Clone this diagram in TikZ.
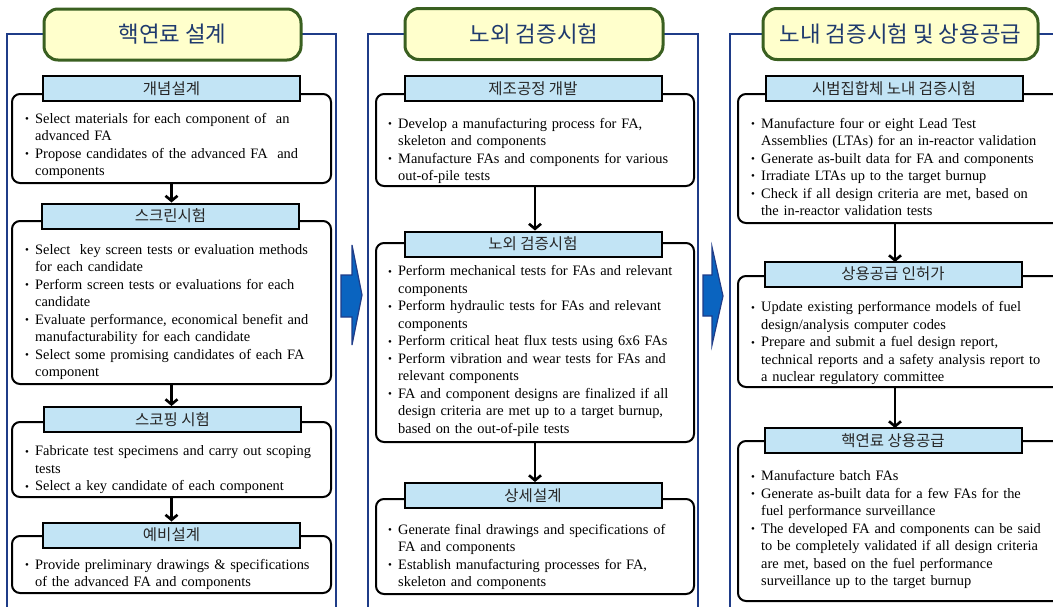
\documentclass[tikz,border=0pt]{standalone}
\usepackage{fontspec}
\setmainfont{Liberation Serif}
\newfontfamily\kr{Noto Sans CJK KR}
\usetikzlibrary{arrows.meta}
\definecolor{navy}{HTML}{1F3C88}
\definecolor{tnavy}{HTML}{1F3A6E}
\definecolor{tgreen}{HTML}{3A6020}
\definecolor{tyellow}{HTML}{FFFFCC}
\definecolor{lblue}{HTML}{C2E4F5}
\definecolor{barrow}{HTML}{0A64C0}
\newcommand\bi{\par\noindent\rule{0pt}{12pt}\hbox to 10pt{\raisebox{0.6pt}{\fontsize{11}{11}\selectfont\textbullet}\hfil}}
\newcommand\nl{\newline\hspace*{10pt}}
\tikzset{
  frame/.style={draw=navy, line width=2pt},
  ttl/.style={draw=tgreen, fill=tyellow, line width=3pt, rounded corners=14pt, inner sep=0pt, text=tnavy, minimum height=51pt, font=\kr\fontsize{22.4}{26}\selectfont},
  lbl/.style={draw=black, fill=lblue, line width=2pt, minimum height=25pt, minimum width=257pt, inner sep=0pt, text=black!85, font=\kr\fontsize{15.5}{18}\selectfont},
  cbox/.style={draw=black, line width=2pt, rounded corners=8pt, inner sep=0pt, fill=white, anchor=north west},
  btext/.style={anchor=north west, inner sep=0pt, align=left, text width=330pt, font=\fontsize{14.4}{17.5}\selectfont},
  flow/.style={line width=2.6pt, -{Straight Barb[length=5pt,width=12pt]}},
  bigarrow/.style={fill=barrow, draw=navy, line width=1.2pt, line join=miter}
}
\begin{document}
\begin{tikzpicture}[x=1pt,y=-1pt]
\useasboundingbox (0,0) rectangle (1053,606);
\clip (0,0) rectangle (1053,606);
% frames
\draw[frame] (7,620) -- (7,34) -- (336,34) -- (336,620);
\draw[frame] (368,620) -- (368,34) -- (698,34) -- (698,620);
\draw[frame] (730,620) -- (730,34) -- (1070,34);
% content boxes
\node[cbox, minimum width=319pt, minimum height=89pt] (c1) at (11,93) {};
\node[cbox, minimum width=319pt, minimum height=163pt] (c2) at (11,220) {};
\node[cbox, minimum width=319pt, minimum height=75pt] (c3) at (11,421) {};
\node[cbox, minimum width=319pt, minimum height=57pt] (c4) at (11,535) {};
\node[cbox, minimum width=318pt, minimum height=92pt] (m1) at (375,93) {};
\node[cbox, minimum width=318pt, minimum height=199pt] (m2) at (375,242) {};
\node[cbox, minimum width=318pt, minimum height=95pt] (m3) at (375,498) {};
\node[cbox, minimum width=330pt, minimum height=129pt] (r1) at (737,93) {};
\node[cbox, minimum width=330pt, minimum height=111pt] (r2) at (737,275) {};
\node[cbox, minimum width=330pt, minimum height=160pt] (r3) at (737,440) {};
% labels
\node[lbl] (l1) at (171.5,88.5) {개념설계};
\node[lbl] (l2) at (170.5,216) {스크린시험};
\node[lbl] (l3) at (172.5,419.5) {스코핑 시험};
\node[lbl] (l4) at (171.5,535) {예비설계};
\node[lbl] (lm1) at (533,88.5) {제조공정 개발};
\node[lbl] (lm2) at (533,244) {노외 검증시험};
\node[lbl] (lm3) at (533,495.5) {상세설계};
\node[lbl] (lr1) at (894,88.5) {시범집합체 노내 검증시험};
\node[lbl] (lr2) at (893,274) {상용공급 인허가};
\node[lbl] (lr3) at (893,440.5) {핵연료 상용공급};
% titles
\node[ttl, minimum width=257pt] (t1) at (172.5,34.5) {핵연료 설계};
\node[ttl, minimum width=258pt] (t2) at (534,34) {노외 검증시험};
\node[ttl, minimum width=275pt] (t3) at (900.5,34) {노내 검증시험 및 상용공급};
% flow arrows
\draw[flow] (c1.south) -- (c1.south |- l2.north);
\draw[flow] (c2.south) -- (c2.south |- l3.north);
\draw[flow] (c3.south) -- (c3.south |- l4.north);
\draw[flow] (m1.south) -- (m1.south |- lm2.north);
\draw[flow] (m2.south) -- (m2.south |- lm3.north);
\draw[flow] (895,222) -- (895,262);
\draw[flow] (895,386) -- (895,428);
% big blue arrows
\draw[bigarrow] (341,275) -- (352,275) -- (352,245) -- (362,295) -- (352,345) -- (352,317) -- (341,317) -- cycle;
\draw[bigarrow] (703,275) -- (712,275) -- (712,247) -- (723,296) -- (712,345) -- (712,316) -- (703,316) -- cycle;
% texts
\node[btext] (x1) at (25,105.3) {\bi Select materials for each component of\ \ an\nl advanced FA
\bi Propose candidates of the advanced FA\ \ and\nl components};
\node[btext] (x2) at (25,236.3) {\bi Select\ \ key screen tests or evaluation methods\nl for each candidate
\bi Perform screen tests or evaluations for each\nl candidate
\bi Evaluate performance, economical benefit and\nl manufacturability for each candidate
\bi Select some promising candidates of each FA\nl component};
\node[btext] (x3) at (25,438) {\bi Fabricate test specimens and carry out scoping\nl tests
\bi Select a key candidate of each component};
\node[btext] (x4) at (25,551.3) {\bi Provide preliminary drawings \& specifications\nl of the advanced FA and components};
\node[btext] (y1) at (388,110.3) {\bi Develop a manufacturing process for FA,\nl skeleton and components
\bi Manufacture FAs and components for various\nl out-of-pile tests};
\node[btext] (y2) at (388,258) {\bi Perform mechanical tests for FAs and relevant\nl components
\bi Perform hydraulic tests for FAs and relevant\nl components
\bi Perform critical heat flux tests using 6x6 FAs
\bi Perform vibration and wear tests for FAs and\nl relevant components
\bi FA and component designs are finalized if all\nl design criteria are met up to a target burnup,\nl based on the out-of-pile tests};
\node[btext] (y3) at (388,516.3) {\bi Generate final drawings and specifications of\nl FA and components
\bi Establish manufacturing processes for FA,\nl skeleton and components};
\node[btext] (z1) at (751,110.3) {\bi Manufacture four or eight Lead Test\nl Assemblies (LTAs) for an in-reactor validation
\bi Generate as-built data for FA and components
\bi Irradiate LTAs up to the target burnup
\bi Check if all design criteria are met, based on\nl the in-reactor validation tests};
\node[btext] (z2) at (751,294) {\bi Update existing performance models of fuel\nl design/analysis computer codes
\bi Prepare and submit a fuel design report,\nl technical reports and a safety analysis report to\nl a nuclear regulatory committee};
\node[btext] (z3) at (751,463) {\bi Manufacture batch FAs
\bi Generate as-built data for a few FAs for the\nl fuel performance surveillance
\bi The developed FA and components can be said\nl to be completely validated if all design criteria\nl are met, based on the fuel performance\nl surveillance up to the target burnup};
\end{tikzpicture}
\end{document}
